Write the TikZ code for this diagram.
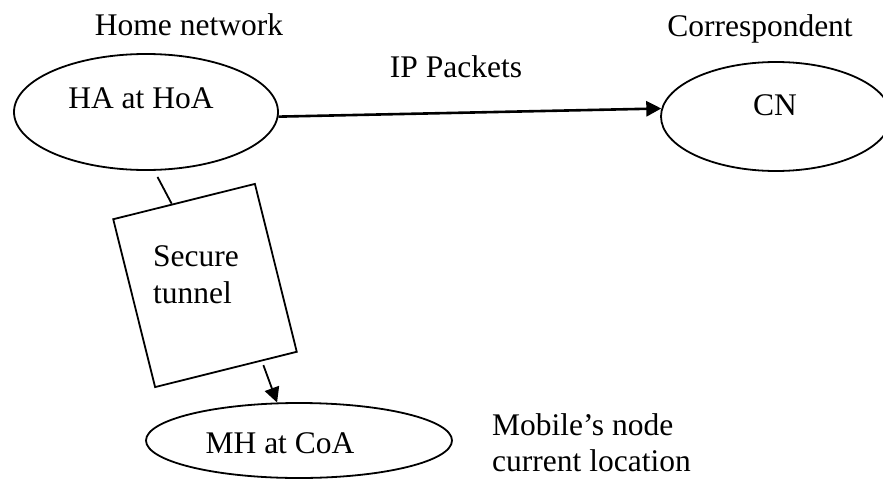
\documentclass[tikz,border=0pt]{standalone}
\usepackage{fontspec}
\setmainfont{Liberation Serif}
\usetikzlibrary{shapes.geometric,arrows.meta,calc}
\begin{document}
\begin{tikzpicture}[x=1pt,y=-1pt,
  every node/.style={font=\fontsize{31.5}{36}\selectfont},
  oval/.style={draw,ellipse,line width=1.8pt,inner sep=0pt},
  lbl/.style={anchor=base,inner sep=0pt},
  lblw/.style={anchor=base west,inner sep=0pt},
  tunnelbox/.style={draw,rectangle,line width=1.8pt,inner sep=0pt},
  conn/.style={line width=1.8pt},
  tip/.style={-{Triangle[length=15pt,width=15pt]}}]
\useasboundingbox (0,0) rectangle (883,479);

% the three hosts
\node[oval,minimum width=264pt,minimum height=116pt] (ha) at (146,112) {};
\node[oval,minimum width=230pt,minimum height=109pt] (cn) at (776,116.5) {};
\node[oval,minimum width=306pt,minimum height=75pt] (mh) at (299,440.5) {};

% the tunnel between home agent and mobile host
\node[tunnelbox,rotate=14,minimum width=146pt,minimum height=173pt] (tun) at (205,285.5) {};

% texts
\node[lbl] (homenet) at (189,35) {Home network};
\node[lbl] (corr) at (760,36) {Correspondent};
\node[lbl] (ippk) at (456,77) {IP Packets};
\node[lbl] (hatxt) at (141,108) {HA at HoA};
\node[lbl] (cntxt) at (775,115) {CN};
\node[lblw] (sec) at (153,266) {Secure};
\node[lblw] (tnl) at (153,303) {tunnel};
\node[lbl] (mhtxt) at (280,453) {MH at CoA};
\node[lblw] (mob) at (492,435) {Mobile’s node};
\node[lblw] (loc) at (492,471) {current location};

% connectors
\coordinate (tuntop) at ($(tun.north west)!0.415!(tun.north east)$);
\coordinate (tunbot) at ($(tun.south west)!0.75!(tun.south east)$);
\draw[conn,line width=2.6pt,tip] (ha.-2) -- (cn.176);
\draw[conn,shorten <=7pt] (ha.-82) -- (tuntop);
\draw[conn,tip,shorten <=4pt] (tunbot) -- (mh.120);
\end{tikzpicture}
\end{document}
